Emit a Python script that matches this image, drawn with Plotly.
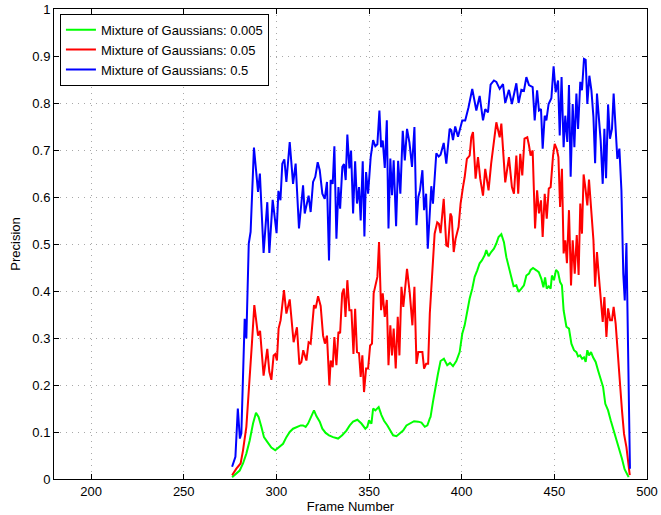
import plotly.graph_objects as go

# Mixture of Gaussians: 0.5 (blue)
blue_x = [276.1, 277.9, 279.2, 280.3, 281.1, 282.9, 283.8, 285.1, 286.1, 287.9, 290.1, 291.1, 293.1, 295.1,
          296.2, 298.0, 300.1, 301.1, 302.2, 303.2, 304.3, 305.4, 307.2, 309.0, 310.4, 312.2, 314.4, 315.3,
          317.4, 318.5, 319.8, 321.0, 322.3, 323.4, 324.8, 326.1, 327.3, 328.4, 329.3, 330.4, 331.3, 332.4,
          333.5, 334.4, 335.6, 336.5, 337.4, 338.3, 339.4, 340.3, 341.4, 342.5, 343.5, 344.6, 345.5, 346.6,
          347.5, 348.4, 349.5, 350.9, 352.2, 353.4, 354.5, 355.6, 356.5, 357.4, 358.5, 359.6, 360.5, 361.5,
          362.4, 363.3, 364.6, 365.7, 366.9, 368.2, 369.3, 370.5, 371.8, 373.2, 374.5, 375.6, 376.6, 377.5,
          378.8, 379.7, 380.8, 381.7, 383.6, 384.5, 386.3, 387.6, 388.6, 390.3, 391.7, 393.5, 394.4, 395.3,
          396.5, 398.0, 400.3, 401.9, 403.7, 405.7, 407.9, 409.7, 411.5, 412.7, 414.2, 415.6, 417.4, 418.7,
          420.5, 422.3, 423.5, 425.5, 427.1, 429.5, 430.7, 432.2, 433.6, 434.9, 436.3, 438.3, 439.4, 440.7,
          441.7, 442.8, 443.7, 444.8, 445.7, 446.9, 448.4, 449.6, 450.7, 452.0, 452.9, 453.9, 455.0, 455.9,
          457.0, 457.9, 458.8, 459.9, 460.8, 461.9, 462.8, 464.0, 464.9, 466.0, 466.9, 467.8, 468.9, 470.0,
          471.1, 472.0, 473.0, 474.1, 475.0, 476.1, 477.0, 477.9, 479.0, 480.0, 481.1, 482.0, 483.1, 484.0,
          485.1, 486.2, 487.2, 488.0, 488.9, 489.8, 490.8]
blue_y = [0.026, 0.047, 0.150, 0.086, 0.097, 0.341, 0.299, 0.501, 0.526, 0.705, 0.611, 0.650, 0.481, 0.589,
          0.481, 0.594, 0.523, 0.613, 0.593, 0.671, 0.680, 0.632, 0.717, 0.628, 0.671, 0.533, 0.625, 0.565,
          0.603, 0.568, 0.632, 0.643, 0.674, 0.657, 0.607, 0.596, 0.632, 0.465, 0.636, 0.628, 0.708, 0.511,
          0.621, 0.575, 0.664, 0.670, 0.636, 0.733, 0.661, 0.699, 0.565, 0.676, 0.586, 0.621, 0.550, 0.676,
          0.516, 0.653, 0.607, 0.685, 0.721, 0.708, 0.712, 0.784, 0.706, 0.720, 0.662, 0.763, 0.533, 0.682,
          0.604, 0.678, 0.538, 0.677, 0.607, 0.741, 0.678, 0.745, 0.716, 0.664, 0.749, 0.540, 0.600, 0.614,
          0.657, 0.572, 0.607, 0.490, 0.623, 0.586, 0.693, 0.686, 0.690, 0.715, 0.671, 0.745, 0.742, 0.721,
          0.750, 0.728, 0.763, 0.763, 0.791, 0.830, 0.784, 0.815, 0.763, 0.787, 0.780, 0.839, 0.848, 0.845,
          0.830, 0.840, 0.800, 0.828, 0.798, 0.842, 0.800, 0.828, 0.826, 0.855, 0.838, 0.834, 0.763, 0.827,
          0.784, 0.787, 0.703, 0.773, 0.763, 0.798, 0.810, 0.878, 0.823, 0.848, 0.731, 0.855, 0.706, 0.773,
          0.717, 0.838, 0.643, 0.798, 0.706, 0.820, 0.745, 0.845, 0.827, 0.894, 0.892, 0.798, 0.858, 0.827,
          0.770, 0.672, 0.820, 0.770, 0.720, 0.628, 0.745, 0.640, 0.797, 0.724, 0.745, 0.820, 0.752, 0.681,
          0.703, 0.614, 0.437, 0.380, 0.502, 0.224, 0.022]

# Mixture of Gaussians: 0.05 (red)
red_x = [276.1, 278.4, 280.7, 282.0, 283.8, 285.6, 286.8, 288.1, 289.4, 290.1, 291.2, 293.1, 295.1, 296.2,
         297.3, 298.5, 299.4, 300.3, 301.2, 302.3, 304.1, 305.4, 307.2, 309.3, 311.1, 312.4, 313.5, 314.5,
         316.2, 317.4, 318.5, 320.3, 321.2, 322.5, 323.9, 325.2, 326.2, 327.3, 328.6, 329.3, 330.4, 331.3,
         332.4, 333.5, 334.4, 335.5, 336.4, 337.3, 338.3, 339.4, 340.5, 341.6, 342.5, 343.5, 344.6, 345.5,
         346.4, 347.3, 348.4, 349.5, 350.6, 351.6, 352.5, 353.6, 354.5, 355.4, 356.5, 357.4, 358.5, 359.6,
         360.5, 361.5, 362.4, 363.3, 364.4, 365.5, 366.4, 367.5, 368.5, 370.5, 372.0, 373.4, 374.5, 375.6,
         376.6, 378.8, 379.7, 380.8, 381.9, 382.8, 383.6, 385.4, 386.8, 387.7, 388.6, 390.3, 391.7, 392.6,
         393.9, 394.6, 395.7, 396.7, 398.3, 399.4, 400.7, 401.6, 402.8, 404.3, 405.2, 406.1, 407.5, 408.8,
         410.0, 411.5, 412.7, 414.5, 415.9, 417.4, 418.7, 420.5, 421.4, 423.5, 425.5, 427.1, 428.2, 429.5,
         430.5, 431.6, 432.7, 433.9, 435.4, 436.3, 437.2, 438.3, 439.6, 440.7, 441.7, 442.8, 443.7, 444.8,
         445.9, 447.0, 448.0, 449.3, 450.2, 451.3, 452.2, 453.1, 454.1, 455.0, 455.9, 456.8, 457.9, 459.0,
         459.9, 461.0, 462.1, 463.1, 464.0, 464.9, 465.8, 466.7, 467.8, 468.7, 470.0, 471.1, 472.0, 473.0,
         473.9, 475.0, 476.1, 477.0, 478.1, 479.0, 480.1, 481.1, 482.0, 483.1, 484.0, 485.3, 486.5, 487.6,
         488.9, 489.8, 490.7]
red_y = [0.008, 0.022, 0.033, 0.061, 0.111, 0.210, 0.288, 0.370, 0.323, 0.305, 0.315, 0.220, 0.277, 0.228,
         0.211, 0.263, 0.266, 0.252, 0.320, 0.338, 0.402, 0.352, 0.382, 0.291, 0.323, 0.244, 0.249, 0.274,
         0.252, 0.291, 0.288, 0.370, 0.363, 0.389, 0.368, 0.305, 0.288, 0.305, 0.199, 0.252, 0.238, 0.302,
         0.242, 0.313, 0.310, 0.395, 0.405, 0.345, 0.423, 0.359, 0.359, 0.266, 0.362, 0.270, 0.268, 0.217,
         0.263, 0.185, 0.235, 0.235, 0.284, 0.288, 0.395, 0.412, 0.430, 0.504, 0.359, 0.395, 0.345, 0.381,
         0.242, 0.327, 0.263, 0.320, 0.235, 0.345, 0.263, 0.409, 0.366, 0.447, 0.395, 0.327, 0.409, 0.245,
         0.270, 0.270, 0.235, 0.245, 0.245, 0.352, 0.401, 0.522, 0.546, 0.543, 0.523, 0.596, 0.497, 0.495,
         0.565, 0.558, 0.483, 0.511, 0.536, 0.586, 0.621, 0.642, 0.681, 0.688, 0.727, 0.738, 0.639, 0.685,
         0.639, 0.603, 0.660, 0.614, 0.671, 0.720, 0.759, 0.727, 0.756, 0.631, 0.685, 0.621, 0.607, 0.688,
         0.607, 0.692, 0.646, 0.724, 0.727, 0.710, 0.688, 0.699, 0.533, 0.614, 0.565, 0.593, 0.515, 0.607,
         0.554, 0.618, 0.621, 0.688, 0.713, 0.702, 0.685, 0.579, 0.660, 0.480, 0.508, 0.459, 0.572, 0.412,
         0.508, 0.437, 0.519, 0.434, 0.586, 0.522, 0.648, 0.621, 0.582, 0.637, 0.565, 0.508, 0.409, 0.483,
         0.437, 0.387, 0.334, 0.387, 0.302, 0.363, 0.338, 0.338, 0.366, 0.330, 0.274, 0.210, 0.146, 0.096,
         0.068, 0.033, 0.008]

# Mixture of Gaussians: 0.005 (green)
green_x = [276.1, 278.4, 280.2, 282.0, 283.8, 285.6, 287.4, 289.0, 290.4, 291.9, 293.3, 295.1, 297.3, 299.4,
           301.8, 303.6, 305.4, 307.2, 309.0, 311.3, 313.1, 314.4, 315.8, 317.1, 318.5, 320.3, 321.6, 323.4,
           324.8, 326.6, 328.4, 330.6, 333.3, 335.5, 337.8, 339.6, 341.4, 343.7, 345.9, 348.0, 349.1, 350.0,
           351.3, 352.2, 353.4, 355.2, 356.7, 358.1, 359.9, 361.4, 363.0, 364.8, 366.6, 368.4, 370.2, 372.0,
           374.3, 376.5, 378.3, 380.1, 381.5, 382.8, 383.2, 384.5, 385.8, 387.2, 388.6, 390.4, 392.2, 393.7,
           395.3, 397.1, 398.9, 400.3, 401.6, 403.0, 404.3, 405.7, 407.0, 408.4, 409.7, 410.9, 412.4, 413.3,
           414.5, 415.9, 417.4, 418.7, 419.9, 421.4, 422.8, 424.1, 425.5, 426.8, 428.0, 429.5, 430.7, 432.2,
           433.6, 434.9, 436.3, 437.2, 438.5, 440.3, 441.6, 443.0, 444.1, 445.0, 445.9, 447.0, 448.0, 448.7,
           449.8, 450.9, 452.0, 453.1, 454.1, 455.0, 456.5, 457.9, 459.2, 460.6, 461.9, 462.8, 463.9, 465.0,
           466.0, 466.9, 467.8, 468.7, 469.8, 470.9, 472.3, 473.6, 475.0, 476.3, 477.5, 479.0, 480.4, 481.8,
           483.5, 484.9, 486.5, 487.9, 489.4, 490.1]
green_y = [0.004, 0.011, 0.018, 0.033, 0.054, 0.082, 0.118, 0.141, 0.132, 0.111, 0.089, 0.079, 0.067, 0.061,
           0.068, 0.075, 0.089, 0.100, 0.107, 0.111, 0.114, 0.114, 0.111, 0.118, 0.132, 0.146, 0.134, 0.122,
           0.107, 0.098, 0.093, 0.089, 0.086, 0.093, 0.103, 0.114, 0.122, 0.126, 0.118, 0.107, 0.111, 0.125,
           0.118, 0.150, 0.146, 0.153, 0.136, 0.124, 0.114, 0.103, 0.093, 0.091, 0.097, 0.103, 0.114, 0.118,
           0.123, 0.122, 0.120, 0.111, 0.114, 0.129, 0.132, 0.164, 0.196, 0.224, 0.251, 0.256, 0.242, 0.247,
           0.240, 0.251, 0.270, 0.309, 0.327, 0.359, 0.384, 0.405, 0.430, 0.444, 0.459, 0.465, 0.476, 0.487,
           0.474, 0.483, 0.490, 0.501, 0.515, 0.521, 0.504, 0.472, 0.451, 0.430, 0.410, 0.412, 0.398, 0.405,
           0.412, 0.433, 0.437, 0.445, 0.449, 0.444, 0.440, 0.426, 0.408, 0.429, 0.405, 0.410, 0.405, 0.433,
           0.423, 0.445, 0.440, 0.419, 0.412, 0.359, 0.324, 0.320, 0.288, 0.274, 0.270, 0.261, 0.263, 0.256,
           0.259, 0.249, 0.274, 0.263, 0.270, 0.259, 0.249, 0.231, 0.210, 0.196, 0.160, 0.146, 0.125, 0.107,
           0.086, 0.064, 0.043, 0.021, 0.007, 0.004]

series_names = ["Mixture of Gaussians: 0.005", "Mixture of Gaussians: 0.05", "Mixture of Gaussians: 0.5"]
series_colors = ["#00ff00", "#ff0000", "#0000ff"]
x_ticks = [200, 250, 300, 350, 400, 450, 500]
y_ticks = [0, 0.1, 0.2, 0.3, 0.4, 0.5, 0.6, 0.7, 0.8, 0.9, 1]
y_ticklabels = ["0", "0.1", "0.2", "0.3", "0.4", "0.5", "0.6", "0.7", "0.8", "0.9", "1"]

fig = go.Figure()
for xs, ys, name, col in zip([green_x, red_x, blue_x], [green_y, red_y, blue_y], series_names, series_colors):
    fig.add_trace(go.Scatter(x=xs, y=ys, mode="lines", name=name,
                             line=dict(color=col, width=2)))

font = dict(family="Liberation Sans, Arial, sans-serif", size=13, color="black")
axis_common = dict(showline=True, linecolor="black", linewidth=1, mirror="ticks",
                   ticks="inside", ticklen=5, tickcolor="black",
                   showgrid=True, gridcolor="#a8a8a8", griddash="1px,5px", gridwidth=1,
                   zeroline=False, tickfont=font)
fig.update_layout(
    width=661, height=515,
    margin=dict(l=54, r=14, t=9, b=36),
    paper_bgcolor="white", plot_bgcolor="white",
    font=font,
    showlegend=True,
    legend=dict(x=0.01, y=0.99, xanchor="left", yanchor="top",
                bgcolor="white", bordercolor="black", borderwidth=1,
                font=dict(family="Liberation Sans, Arial, sans-serif", size=13),
                tracegroupgap=0, itemwidth=30),
)
fig.update_xaxes(range=[180, 500], tickvals=x_ticks, **axis_common,
                 title=dict(text="Frame Number", font=font, standoff=1), automargin=False)
fig.update_yaxes(range=[0, 1], tickvals=y_ticks, ticktext=y_ticklabels, **axis_common,
                 title=dict(text="Precision", font=font, standoff=8), automargin=False)

fig.write_html("out.html", config={"displayModeBar": False},
               post_script="document.body.style.margin='0';document.body.style.overflow='hidden';")
